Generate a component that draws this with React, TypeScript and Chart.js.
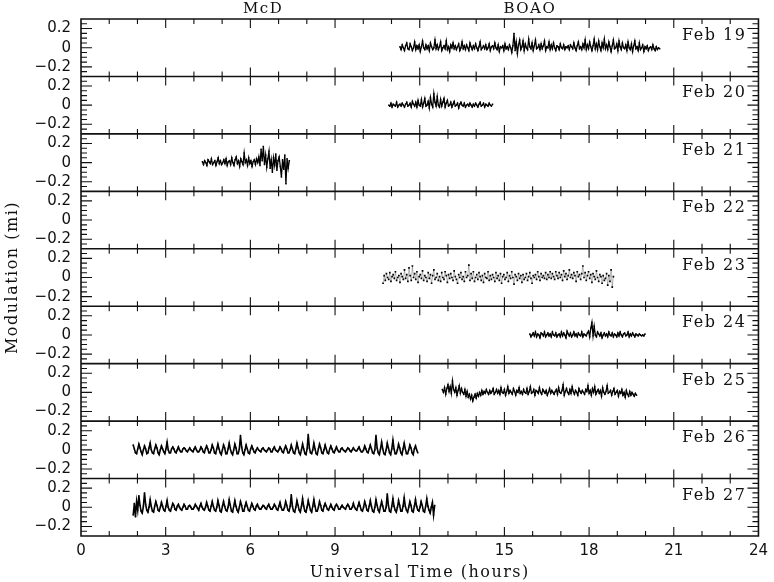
import React, { useEffect, useRef } from 'react';
import { Chart, registerables } from 'chart.js';

Chart.register(...registerables);

// ---------------- data (modulation in units of 0.01, sampled every CADENCE_H hours) ----------------
const CADENCE_H = 0.04;
const VALUE_UNIT = 0.01;

const NIGHT_LABELS = ['Feb 19', 'Feb 20', 'Feb 21', 'Feb 22', 'Feb 23', 'Feb 24', 'Feb 25', 'Feb 26', 'Feb 27'];
const NIGHT_STARTS = [11.3, 10.9, 4.3, 0, 10.7, 15.9, 12.8, 1.85, 1.85];

const FEB19 = [
  1, -2, 3, 0, -3, 2, 5, -1, -2, 4, 1, -3, 0, 6, -2, 2, -1, 3, -4, 1, 7, 0, -2, 3, -1,
  2, -3, 5, 1, -2, 0, 8, -1, 3, -2, 1, 6, -3, 0, 2, -1, 7, -2, 1, -4, 3, 0, 5, -1, 2,
  -2, 1, 4, -3, 0, 6, -1, 2, -2, 3, 0, -3, 5, 1, -2, 2, -1, 4, 0, -3, 1, 6, -2, 0, 2,
  -1, 3, -2, 0, 4, -3, 1, 2, -1, 5, 0, -2, 3, -4, 1, 0, 2, -3, 4, -1, 1, -2, 3, 0, -5,
  2, 15, -3, 6, -6, 3, 8, -2, 1, 7, -3, 4, 0, -2, 9, 1, -1, 5, -3, 2, 8, -1, 0, 3, -2,
  4, -1, 2, 7, -3, 1, 0, 6, -2, 3, -1, 5, 0, -3, 2, 1, -2, 4, 0, -1, 3, -2, 1, 0, 2,
  -2, 3, 1, -1, 5, 0, -3, 2, 6, -1, 1, -2, 4, 0, 8, -2, 3, -1, 6, 1, -3, 2, 9, -1, 4,
  -2, 7, 1, -3, 5, 0, 9, -1, 3, -2, 6, 1, -4, 2, 8, -1, 0, 4, -3, 7, 1, -2, 5, 0, -1,
  3, -3, 6, 0, -2, 4, -4, 2, 7, -1, 1, -3, 5, -2, 0, 3, -4, 1, -1, 2, -3, 0, 1, -2, 3,
  -1, -3, 1, -2, 0, -1,
];

const FEB20 = [
  0, -1, 2, -2, 1, 0, -1, 3, -2, 0, 1, -1, 2, 0, -2, 1, 3, -1, 0, 2, -2, 4, 1, -1, 3,
  -2, 5, 0, -1, 6, -2, 2, 7, -1, 0, 4, -3, 8, 1, -2, 12, 3, -1, 9, 0, -2, 6, -1, 3, 7,
  -2, 2, 5, -1, 0, 3, -2, 1, 4, -1, 0, 2, -3, 1, 3, 0, -1, 2, -2, 0, 1, -1, 2, 0, -2,
  1, -1, 2, 0, -2, 1, 3, -1, 0, 2, -2, 1, 0, -1, 2, 0, -1, 1,
];

const FEB21 = [
  1, -2, 2, 0, -3, 3, 1, -1, 4, -2, 0, 2, -3, 1, 5, -1, 2, -2, 0, 3, -1, 4, -3, 1, 2,
  -2, 5, 0, -3, 3, 6, -1, 2, -4, 4, 1, -2, 10, 0, 3, -3, 5, -1, 2, -4, 1, 3, -2, 4, 0,
  6, -3, 14, 2, 17, -2, 8, -5, 4, 12, -6, 3, -10, 5, -3, 9, -8, 2, 6, -4, -15, 3, -7, 8, -22,
  4, -6, 2,
];

const FEB22: number[] = [];

const FEB23 = [
  -6, 2, -3, 4, 0, -2, 5, -4, 1, 3, -1, 6, -3, 0, 2, -5, 4, 1, -2, 8, -1, 3, -4, 10, 2,
  -3, 12, 0, 4, -2, 6, -5, 1, 3, -1, 7, -3, 2, 0, -4, 5, -1, 3, -6, 2, 8, -2, 0, 4, -3,
  1, -4, 5, 0, -2, 6, 2, -5, 3, -1, 4, 0, -3, 7, 1, -2, -6, 3, 0, 5, -2, 1, -4, 6, 0,
  2, 13, -3, 4, -1, 6, -4, 0, 3, -2, 5, 1, -3, 2, -5, 4, 0, -1, 6, -3, 2, -2, 3, 0, -4,
  5, -1, 2, -3, 4, -6, 1, 3, -2, 0, 5, -4, 2, -1, 6, 0, -7, 3, 1, -3, 4, -1, 2, -5, 3,
  -2, 0, 4, -3, 1, 5, -1, -6, 2, 0, 3, -2, 6, 1, -3, 4, 0, 2, -1, 5, -2, 3, 0, 6, -1,
  4, 1, -2, 6, 2, -1, 5, 0, 3, -3, 7, 1, 4, -2, 2, 8, 0, 3, -1, 5, 2, -4, 6, 1, 3,
  -2, 4, 12, 0, 5, -3, 2, 6, -1, 3, -5, 4, 1, -2, 7, 0, -4, 3, 1, -6, 2, -3, -1, 4, -8,
  2, -4, 8, -10, 1,
];

const FEB24 = [
  1, -2, 0, 2, -1, 3, -2, 1, 0, -3, 2, 1, -1, 3, -2, 0, 2, -1, 1, -2, 3, 0, -1, 2, -2,
  0, 1, -2, 3, -1, 2, 0, -3, 4, 1, -1, 2, -2, 0, 3, -1, 1, -2, 2, 0, -1, 3, -2, 1, 0,
  -1, 2, 4, -2, 7, 13, -1, 9, 0, -2, 3, 1, -1, 2, -3, 0, 2, -1, 1, -2, 3, 0, -1, 2, -2,
  1, 0, -2, 2, -1, 3, 0, -2, 1, 2, -1, 0, 3, -2, 1, -1, 2, 0, -2, 1, 0, -1, 1, 0, -1,
  0, -1, 1,
];

const FEB25 = [
  3, 0, 5, -2, 4, 8, 1, 6, -1, 12, 3, 0, 5, -3, 2, 7, -1, 4, 0, -2, 3, -4, 1, -5, -2,
  -7, -3, -9, -5, -2, -6, -1, -4, 0, -3, 2, -2, 1, -1, 3, 0, -2, 2, -1, 1, 4, -2, 0, 3, -1,
  2, -2, 5, 0, -1, 3, -3, 1, 6, -1, 2, 0, -2, 4, 1, -3, 2, 0, 5, -1, 1, -2, 3, 0, -1,
  4, -2, 1, 6, -1, 0, 3, -3, 2, 1, -1, 5, 0, -2, 3, 1, -1, 2, -3, 0, 4, -1, 2, 0, -2,
  1, 3, -2, 5, 0, -1, 2, 8, -3, 1, 4, 0, -2, 3, -1, 6, 1, -2, 2, 0, -3, 4, 1, -1, 2,
  0, -2, 3, 1, 7, -1, 2, -3, 4, 0, 6, -2, 1, 3, -1, 2, -4, 5, 0, -2, 1, 7, -1, 0, 2,
  -3, 1, 4, -2, 0, 2, -4, 1, -1, 3, -3, 0, -5, 2, -2, -4, 1, -3, 0, -2, -4, -1, -3,
];

const FEB26 = [
  5, 1, -3, -4, 1, 6, 2, -2, -5, 0, 4, 1, -4, -3, 2, 7, 0, -3, -4, 1, 5, 2, -3, -5, 0,
  4, 1, -2, -4, 1, 8, 0, -3, -3, 1, 3, 1, -2, -3, 0, 3, 0, -2, -2, 1, 2, 1, -1, -2, 0,
  2, 0, -1, -2, 1, 3, 0, -2, -2, 0, 3, 1, -2, -3, 1, 4, 1, -3, -3, 0, 5, 2, -3, -4, 1,
  6, 1, -3, -5, 0, 5, 2, -4, -4, 1, 7, 1, -3, -5, 0, 6, 2, -4, -4, 1, 15, 3, -3, -5, 0,
  5, 1, -3, -4, 1, 4, 1, -2, -3, 0, 2, 0, -1, -2, 1, 2, 0, -1, -2, 0, 2, 1, -2, -2, 1,
  3, 0, -1, -2, 0, 3, 1, -2, -3, 1, 4, 1, -3, -3, 0, 5, 1, -3, -4, 1, 7, 2, -3, -5, 0,
  6, 1, -4, -5, 1, 16, 2, -3, -4, 0, 7, 1, -4, -5, 1, 6, 2, -3, -4, 0, 5, 1, -3, -4, 1,
  4, 1, -2, -3, 0, 3, 0, -2, -2, 1, 2, 0, -1, -2, 0, 2, 1, -1, -2, 0, 2, 0, -1, -1, 1,
  3, 0, -2, -2, 0, 4, 1, -2, -3, 1, 5, 1, -3, -4, 0, 15, 2, -3, -5, 1, 8, 1, -4, -5, 0,
  7, 2, -3, -5, 1, 10, 1, -4, -4, 0, 6, 2, -3, -5, 1, 7, 1, -4, -4, 0, 5, 2, -3, -5, 1,
  4, 0, -3,
];

const FEB27 = [
  -8, 4, -10, 6, -3, 12, 2, -4, -6, 1, 15, 3, -3, -5, 0, 8, 1, -4, -5, 1, 6, 2, -3, -4, 0,
  5, 1, -3, -4, 1, 7, 0, -3, -4, 0, 4, 2, -2, -3, 1, 3, 0, -2, -3, 0, 3, 1, -2, -2, 1,
  2, 0, -2, -2, 0, 3, 1, -1, -3, 1, 4, 0, -2, -3, 0, 5, 1, -3, -4, 1, 6, 1, -3, -4, 0,
  7, 2, -4, -5, 1, 6, 1, -3, -4, 0, 8, 2, -4, -5, 1, 7, 1, -3, -5, 0, 6, 2, -4, -4, 1,
  5, 1, -3, -4, 0, 4, 1, -2, -3, 1, 3, 0, -2, -2, 0, 2, 1, -1, -2, 1, 3, 0, -2, -2, 0,
  3, 1, -2, -3, 1, 5, 0, -3, -3, 0, 6, 2, -3, -4, 1, 13, 1, -4, -5, 0, 7, 2, -3, -5, 1,
  9, 1, -4, -5, 0, 7, 2, -3, -5, 1, 8, 1, -4, -4, 0, 6, 2, -3, -4, 1, 4, 1, -2, -3, 0,
  3, 0, -2, -3, 1, 3, 1, -2, -2, 0, 2, 0, -1, -2, 1, 3, 1, -2, -2, 0, 4, 0, -2, -3, 1,
  5, 1, -3, -4, 0, 6, 2, -3, -4, 1, 7, 1, -4, -5, 0, 8, 2, -3, -5, 1, 6, 1, -4, -4, 0,
  14, 2, -4, -5, 1, 9, 1, -3, -5, 0, 7, 2, -4, -4, 1, 10, 1, -3, -5, 0, 6, 2, -4, -5, 1,
  8, 1, -3, -4, 0, 6, 2, -4, -5, 1, 9, 1, -3, -6, 0, 5, -8, 2,
];

const NIGHT_VALUES = [FEB19, FEB20, FEB21, FEB22, FEB23, FEB24, FEB25, FEB26, FEB27];

// axis ticks
const X_MIN = 0;
const X_MAX = 24;
const X_LABEL_STEP = 3;
const X_MINOR_HOURS = [1, 2, 4, 5, 7, 8, 10, 11, 13, 14, 16, 17, 19, 20, 22, 23];
const X_MAJOR_HOURS = [3, 6, 9, 12, 15, 18, 21];
const Y_MIN = -0.3;
const Y_MAX = 0.3;
const Y_MAJOR = [-0.2, 0, 0.2];
const Y_MINOR = [-0.25, -0.15, -0.1, -0.05, 0.05, 0.1, 0.15, 0.25];

// site annotations
const SITE_NAMES = ['McD', 'BOAO'];
const SITE_HOURS = [6.45, 15.9];

const X_TITLE = 'Universal Time (hours)';
const Y_TITLE = 'Modulation (mi)';

const SERIF = '"DejaVu Serif", serif';
const SANS = '"DejaVu Sans", sans-serif';
const INK = '#111';

// per-night trace styling: scattered nights get a faint trace, densest nights a heavier one
const SCATTERED_NIGHTS = ['Feb 23'];
const DENSE_NIGHTS = ['Feb 26', 'Feb 27'];

function fmtTick(v: number): string {
  if (Math.abs(v) < 1e-9) return '0';
  return (v < 0 ? '\u2212' : '') + Math.abs(v).toFixed(1);
}

const framePlugin = {
  id: 'framePlugin',
  afterDatasetsDraw(chart: any) {
    const { ctx, chartArea: a, scales } = chart;
    const xs = scales.x;
    ctx.save();
    ctx.strokeStyle = INK;
    ctx.lineWidth = 1.1;
    ctx.beginPath();
    for (let i = 0; i < NIGHT_LABELS.length; i++) {
      const ys = scales['y' + i];
      const top = ys.top;
      const bottom = ys.bottom;
      const hourTick = (h: number, len: number) => {
        const px = xs.getPixelForValue(h);
        ctx.moveTo(px, top);
        ctx.lineTo(px, top + len);
        ctx.moveTo(px, bottom);
        ctx.lineTo(px, bottom - len);
      };
      X_MINOR_HOURS.forEach((h) => hourTick(h, 5));
      X_MAJOR_HOURS.forEach((h) => hourTick(h, 9));
      const modTick = (m: number, len: number) => {
        const py = ys.getPixelForValue(m);
        ctx.moveTo(a.left, py);
        ctx.lineTo(a.left + len, py);
        ctx.moveTo(a.right, py);
        ctx.lineTo(a.right - len, py);
      };
      Y_MINOR.forEach((m) => modTick(m, 6));
      Y_MAJOR.forEach((m) => modTick(m, 11));
    }
    ctx.stroke();

    ctx.lineWidth = 1.6;
    ctx.beginPath();
    ctx.rect(a.left, a.top, a.right - a.left, a.bottom - a.top);
    for (let i = 0; i < NIGHT_LABELS.length; i++) {
      const ys = scales['y' + i];
      ctx.moveTo(a.left, ys.bottom);
      ctx.lineTo(a.right, ys.bottom);
    }
    ctx.stroke();

    ctx.fillStyle = INK;
    (ctx as any).letterSpacing = '1.5px';
    ctx.font = '16px ' + SERIF;
    ctx.textAlign = 'right';
    ctx.textBaseline = 'alphabetic';
    for (let i = 0; i < NIGHT_LABELS.length; i++) {
      const ys = scales['y' + i];
      ctx.fillText(NIGHT_LABELS[i], a.right - 12, ys.top + 21);
    }
    ctx.textAlign = 'center';
    ctx.font = '15px ' + SERIF;
    for (let i = 0; i < SITE_NAMES.length; i++) {
      ctx.fillText(SITE_NAMES[i], xs.getPixelForValue(SITE_HOURS[i]), 13);
    }
    ctx.font = '16px ' + SERIF;
    ctx.fillText(X_TITLE, (a.left + a.right) / 2, 577);
    ctx.save();
    ctx.translate(13, (a.top + a.bottom) / 2);
    ctx.rotate(-Math.PI / 2);
    ctx.textBaseline = 'middle';
    ctx.fillText(Y_TITLE, 0, 0);
    ctx.restore();
    ctx.restore();
  },
};

export default function App() {
  const ref = useRef<HTMLCanvasElement>(null);
  useEffect(() => {
    document.body.style.margin = '0';
    const datasets = NIGHT_VALUES.map((vals, i) => {
      const scattered = SCATTERED_NIGHTS.includes(NIGHT_LABELS[i]);
      const dense = DENSE_NIGHTS.includes(NIGHT_LABELS[i]);
      return {
        label: NIGHT_LABELS[i],
        data: vals.map((v, k) => ({ x: NIGHT_STARTS[i] + k * CADENCE_H, y: v * VALUE_UNIT })),
        yAxisID: 'y' + i,
        showLine: true,
        borderWidth: scattered ? 0.5 : dense ? 1.6 : 1.3,
        borderColor: scattered ? 'rgba(0,0,0,0.55)' : '#000',
        pointStyle: 'rect',
        pointRadius: scattered ? 1.2 : 1,
        pointHoverRadius: 1,
        pointBorderWidth: 0,
        backgroundColor: '#000',
      };
    });
    const scales: any = {
      x: {
        type: 'linear',
        position: 'bottom',
        min: X_MIN,
        max: X_MAX,
        grid: { display: false, drawTicks: false },
        border: { display: false },
        ticks: {
          stepSize: X_LABEL_STEP,
          color: INK,
          font: { family: SANS, size: 15 },
          padding: 6,
          maxRotation: 0,
          autoSkip: false,
        },
        afterFit: (s: any) => {
          s.height = 46;
        },
      },
    };
    for (let i = NIGHT_LABELS.length - 1; i >= 0; i--) {
      scales['y' + i] = {
        type: 'linear',
        position: 'left',
        stack: 'nights',
        stackWeight: 1,
        offset: false,
        min: Y_MIN,
        max: Y_MAX,
        grid: { display: false, drawTicks: false },
        border: { display: false },
        afterBuildTicks: (s: any) => {
          s.ticks = Y_MAJOR.map((v) => ({ value: v }));
        },
        ticks: {
          color: INK,
          font: { family: SANS, size: 15 },
          padding: 10,
          autoSkip: false,
          callback: (v: any) => fmtTick(Number(v)),
        },
        afterFit: (s: any) => {
          s.width = 81;
        },
      };
    }
    const chart = new Chart(ref.current as HTMLCanvasElement, {
      type: 'scatter',
      data: { datasets },
      options: {
        responsive: false,
        animation: false,
        layout: { padding: { top: 17, right: 11, left: 0, bottom: 0 } },
        plugins: { legend: { display: false }, tooltip: { enabled: false } },
        scales,
      } as any,
      plugins: [framePlugin],
    });
    return () => chart.destroy();
  }, []);
  return (
    <div style={{ width: 774, height: 582 }}>
      <canvas ref={ref} width={774} height={582} style={{ display: 'block', width: 774, height: 582 }} />
    </div>
  );
}
